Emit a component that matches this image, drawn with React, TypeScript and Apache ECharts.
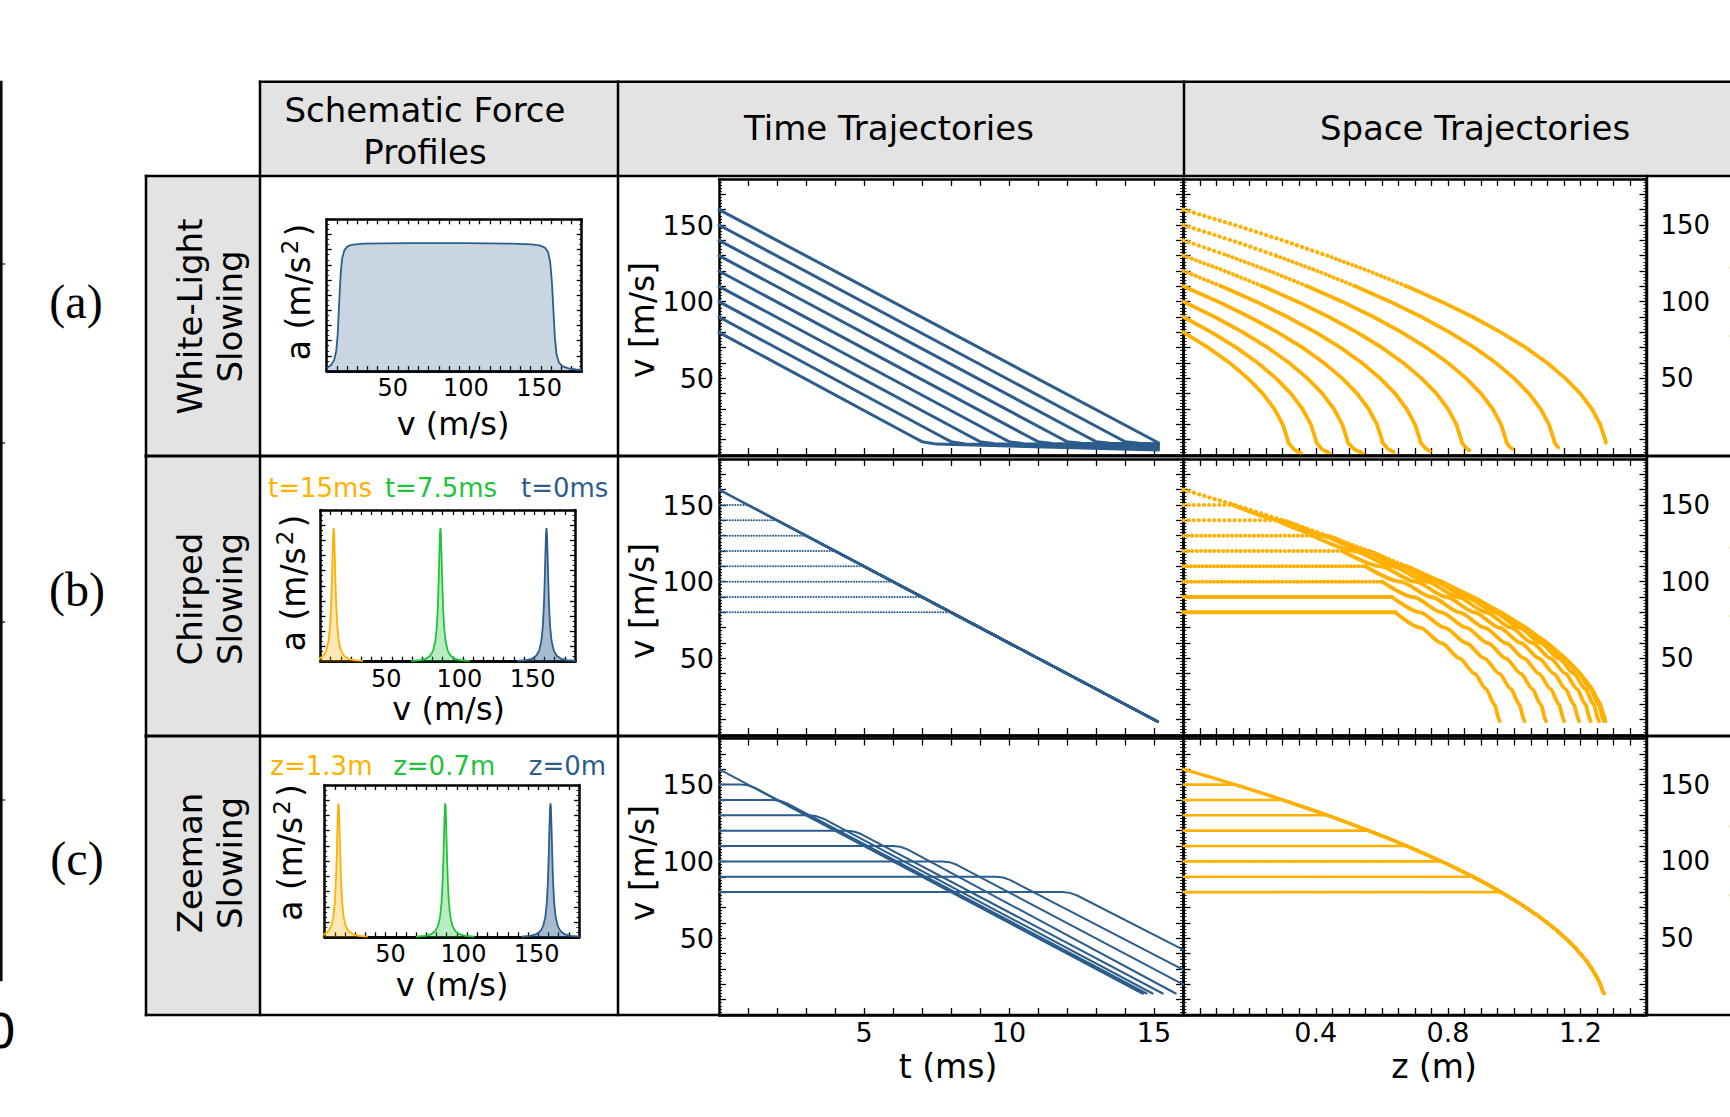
import React, { useEffect, useRef } from "react";
import * as echarts from "echarts";

// ---------------- data ----------------
const V0 = [160, 150, 140, 130, 120, 110, 100, 90, 80];
const V_LEVELS = [160, 150, 140, 130, 120, 110, 100, 90, 80, 70, 60, 50, 40, 30, 20, 10];

// (a) White-light slowing, time trajectories [t (ms), v (m/s)]
const WL_TIME = [
  [[0, 160], [15.15, 8]],
  [[0, 150], [13.6, 12.7], [14.0, 8.7], [14.5, 7.7], [15.15, 7.3]],
  [[0, 140], [12.6, 12.7], [13.0, 8.7], [13.5, 7.6], [15.15, 6.8]],
  [[0, 130], [11.6, 12.7], [12.0, 8.7], [12.5, 7.6], [15.15, 6.2]],
  [[0, 120], [10.6, 12.7], [11.0, 8.7], [11.5, 7.5], [15.15, 5.6]],
  [[0, 110], [9.6, 12.7], [10.0, 8.7], [10.5, 7.4], [15.15, 5.0]],
  [[0, 100], [8.6, 12.7], [9.0, 8.7], [9.5, 7.3], [15.15, 4.4]],
  [[0, 90], [7.6, 12.7], [8.0, 8.7], [8.5, 7.2], [15.15, 3.8]],
  [[0, 80], [6.6, 12.7], [7.0, 8.7], [7.5, 7.1], [15.15, 3.2]],
];
// (a) space trajectories: z (m) at V_LEVELS from v0 down to 10 m/s, then the stopping tail
const WL_SPACE_Z = [
  [0, 0.155, 0.3, 0.435, 0.56, 0.675, 0.78, 0.875, 0.96, 1.035, 1.1, 1.155, 1.2, 1.235, 1.26, 1.275],
  [0, 0.145, 0.28, 0.405, 0.52, 0.625, 0.72, 0.805, 0.88, 0.945, 1.0, 1.045, 1.08, 1.105, 1.12],
  [0, 0.135, 0.26, 0.375, 0.48, 0.575, 0.66, 0.735, 0.8, 0.855, 0.9, 0.935, 0.96, 0.975],
  [0, 0.125, 0.24, 0.345, 0.44, 0.525, 0.6, 0.665, 0.72, 0.765, 0.8, 0.825, 0.84],
  [0, 0.115, 0.22, 0.315, 0.4, 0.475, 0.54, 0.595, 0.64, 0.675, 0.7, 0.715],
  [0, 0.105, 0.2, 0.285, 0.36, 0.425, 0.48, 0.525, 0.56, 0.585, 0.6],
  [0, 0.095, 0.18, 0.255, 0.32, 0.375, 0.42, 0.455, 0.48, 0.495],
  [0, 0.085, 0.16, 0.225, 0.28, 0.325, 0.36, 0.385, 0.4],
  [0, 0.075, 0.14, 0.195, 0.24, 0.275, 0.3, 0.315],
];
const WL_SPACE_TAIL = [
  [[1.277, 8]],
  [[1.122, 8], [1.128, 6.2], [1.133, 5]],
  [[0.977, 8], [0.986, 5.5], [0.994, 4]],
  [[0.842, 8], [0.853, 5], [0.864, 3]],
  [[0.717, 8], [0.731, 4.5], [0.745, 2.5]],
  [[0.602, 8], [0.618, 4], [0.635, 2]],
  [[0.497, 8], [0.518, 3.5], [0.54, 1.5]],
  [[0.402, 8], [0.42, 3.5], [0.44, 1.5]],
  [[0.317, 8], [0.335, 3.5], [0.356, 1]],
];

// (b) Chirped slowing
const CH_MEET_T = [0, 1, 2, 3, 4, 5, 6, 7, 8];
const CH_TIME_END = [15.13, 8.7];
const CH_MEET_Z = [0, 0.15, 0.28, 0.39, 0.48, 0.55, 0.6, 0.63, 0.64];
const CH_SPACE_Z = [
  [0, 0.155, 0.3, 0.435, 0.56, 0.675, 0.78, 0.875, 0.96, 1.035, 1.1, 1.155, 1.2, 1.235, 1.26, 1.275],
  [0.15, 0.295, 0.43, 0.555, 0.67, 0.775, 0.87, 0.955, 1.03, 1.095, 1.15, 1.195, 1.23, 1.255, 1.27],
  [0.28, 0.415, 0.54, 0.655, 0.76, 0.855, 0.94, 1.015, 1.08, 1.135, 1.18, 1.215, 1.24, 1.255],
  [0.39, 0.515, 0.63, 0.735, 0.83, 0.915, 0.99, 1.055, 1.11, 1.155, 1.19, 1.215, 1.23],
  [0.48, 0.595, 0.7, 0.795, 0.88, 0.955, 1.02, 1.075, 1.12, 1.155, 1.18, 1.195],
  [0.55, 0.655, 0.75, 0.835, 0.91, 0.975, 1.03, 1.075, 1.11, 1.135, 1.15],
  [0.6, 0.695, 0.78, 0.855, 0.92, 0.975, 1.02, 1.055, 1.08, 1.095],
  [0.63, 0.715, 0.79, 0.855, 0.91, 0.955, 0.99, 1.015, 1.03],
  [0.64, 0.715, 0.78, 0.835, 0.88, 0.915, 0.94, 0.955],
];
const CH_SPACE_END_Z = [1.276, 1.271, 1.256, 1.231, 1.196, 1.151, 1.096, 1.031, 0.956];
const CH_END_V = 9;

// (c) Zeeman slowing: time trajectories with rounded capture knee
const ZM_TIME = [
  [[0, 160], [14.6, 14]],
  [[0, 150], [0.75, 150], [1.0, 149.5], [1.25, 147.8], [14.63, 14]],
  [[0, 140], [1.85, 140], [2.1, 139.5], [2.35, 137.8], [14.74, 14]],
  [[0, 130], [3.1, 130], [3.35, 129.5], [3.6, 127.8], [14.95, 14]],
  [[0, 120], [4.4, 120], [4.65, 119.5], [4.9, 117.8], [15.3, 14]],
  [[0, 110], [6.0, 110], [6.25, 109.5], [6.5, 107.8], [15.75, 14]],
  [[0, 100], [7.7, 100], [7.95, 99.5], [8.2, 97.8], [16, 20]],
  [[0, 90], [9.55, 90], [9.8, 89.5], [10.05, 87.8], [16, 29.5]],
  [[0, 80], [11.85, 80], [12.1, 79.5], [12.35, 77.8], [16, 42.5]],
];
const ZM_CAPTURE_Z = [0, 0.155, 0.3, 0.435, 0.56, 0.675, 0.78, 0.875, 0.96];
// resonance curve in space (the path every captured atom follows)
const ZM_RES_V = [160, 155, 150, 145, 140, 135, 130, 125, 120, 115, 110, 105, 100, 95, 90, 85, 80, 75, 70, 65, 60, 55, 50, 45, 40, 35, 30, 25, 20, 15, 14];
const ZM_RES_Z = [0, 0.079, 0.155, 0.229, 0.3, 0.369, 0.435, 0.499, 0.56, 0.619, 0.675, 0.729, 0.78, 0.829, 0.875, 0.919, 0.96, 0.999, 1.035, 1.069, 1.1, 1.129, 1.155, 1.179, 1.2, 1.219, 1.235, 1.249, 1.26, 1.269, 1.272];

// schematic force profiles
const WL_PROFILE_V = [5, 8, 10, 11.5, 12.5, 13.5, 14.5, 15.5, 17, 19, 22, 30, 60, 100, 130, 145, 151, 154, 156, 157.5, 158.7, 159.7, 160.7, 161.8, 163.5, 166, 170, 175, 179];
const WL_PROFILE_A = [0.02, 0.04, 0.07, 0.13, 0.24, 0.45, 0.64, 0.74, 0.795, 0.82, 0.832, 0.84, 0.843, 0.843, 0.84, 0.835, 0.826, 0.812, 0.785, 0.72, 0.58, 0.4, 0.22, 0.11, 0.055, 0.03, 0.017, 0.01, 0.007];
const PEAK_OFFSETS = [-20, -14, -10, -7, -5, -3.5, -2.5, -1.8, -1.2, -0.7, -0.3, 0, 0.3, 0.7, 1.2, 1.8, 2.5, 3.5, 5, 7, 10, 14, 20];
const PEAK_SHAPE = [0.005, 0.01, 0.019, 0.039, 0.073, 0.136, 0.23, 0.36, 0.54, 0.72, 0.85, 0.88, 0.85, 0.72, 0.54, 0.36, 0.23, 0.136, 0.073, 0.039, 0.019, 0.01, 0.005];
const CH_PEAK_CENTERS = [14, 87, 159.5];
const ZM_PEAK_CENTERS = [14.5, 87.5, 159.5];
const CH_LEGEND = ["t=15ms", "t=7.5ms", "t=0ms"];
const ZM_LEGEND = ["z=1.3m", "z=0.7m", "z=0m"];

const TIME_TICK_LABELS = [5, 10, 15];
const SPACE_TICK_LABELS = [0.4, 0.8, 1.2];
const V_TICK_LABELS = [50, 100, 150];
const INSET_TICK_LABELS = [50, 100, 150];

// ---------------- style / layout ----------------
const BLUE = "#2D5D8C";
const ORANGE = "#FFB000";
const GREEN = "#22C33C";
const GRAY = "#E3E3E3";
const AXC = "#000";
const FONT = "DejaVu Sans";

const TIME_LEFT = 719;
const TIME_W = 464;
const SPACE_LEFT = 1183.5;
const SPACE_W = 463;
const ROWS = [
  { top: 179, height: 276 },
  { top: 459, height: 276 },
  { top: 738.5, height: 276.5 },
];
const INSETS = [
  { left: 326.7, top: 219.3, width: 255, height: 151.7 },
  { left: 320.5, top: 510, width: 254.5, height: 151.7 },
  { left: 324.6, top: 785, width: 254.4, height: 152.3 },
];

function buildOption() {
  const grid: any[] = [];
  const xAxis: any[] = [];
  const yAxis: any[] = [];
  const series: any[] = [];

  const axLine = { show: true, onZero: false, lineStyle: { color: AXC, width: 2.5 } };
  const tick = (len: number) => ({ show: true, inside: true, length: len, lineStyle: { color: AXC, width: 1.3 } });
  const pick = (list: number[]) => (v: number) => {
    const f = list.find((t) => Math.abs(t - v) < 1e-6);
    return f === undefined ? "" : String(f);
  };
  const lab = (show: boolean, list: number[], margin: number, size: number) => ({
    show,
    formatter: pick(list),
    margin,
    fontSize: size,
    color: AXC,
    fontFamily: FONT,
  });

  function addMain(left: number, width: number, row: any, kind: string, showX: boolean, leftLab: boolean, rightLab: boolean) {
    const gi = grid.length;
    grid.push({ left, top: row.top, width, height: row.height, show: false });
    const isT = kind === "time";
    const xr = isT ? { min: 0, max: 16, interval: 1 } : { min: 0, max: 1.4, interval: 0.05 };
    const xl = isT ? TIME_TICK_LABELS : SPACE_TICK_LABELS;
    const xi = xAxis.length;
    xAxis.push({ gridIndex: gi, type: "value", position: "bottom", ...xr, axisLine: axLine, axisTick: tick(7), axisLabel: lab(showX, xl, 4, 27), splitLine: { show: false } });
    xAxis.push({ gridIndex: gi, type: "value", position: "top", ...xr, axisLine: axLine, axisTick: tick(7), axisLabel: { show: false }, splitLine: { show: false } });
    const yi = yAxis.length;
    const yr = { min: 0, max: 180, interval: 10 };
    const minor = { show: true, splitNumber: 5, length: 3, lineStyle: { color: AXC, width: 0.9 } };
    yAxis.push({ gridIndex: gi, type: "value", position: "left", ...yr, axisLine: axLine, axisTick: tick(7), minorTick: minor, axisLabel: lab(leftLab, V_TICK_LABELS, 5, 27), splitLine: { show: false }, minorSplitLine: { show: false } });
    yAxis.push({ gridIndex: gi, type: "value", position: "right", ...yr, axisLine: axLine, axisTick: tick(7), minorTick: minor, axisLabel: lab(rightLab, V_TICK_LABELS, 14, 26), splitLine: { show: false }, minorSplitLine: { show: false } });
    return [xi, yi];
  }

  function addInset(b: any) {
    const gi = grid.length;
    grid.push({ left: b.left, top: b.top, width: b.width, height: b.height, show: false });
    const xi = xAxis.length;
    xAxis.push({
      gridIndex: gi, type: "value", position: "bottom", min: 5, max: 179,
      axisLine: axLine, axisTick: { show: false }, splitLine: { show: false },
      axisLabel: { show: true, customValues: INSET_TICK_LABELS, fontSize: 24, lineHeight: 24, color: AXC, fontFamily: FONT, margin: 5 },
    });
    ["bottom", "top"].forEach((pos) =>
      xAxis.push({ gridIndex: gi, type: "value", position: pos, min: 0, max: 25, interval: 1, axisLine: axLine, axisTick: tick(5), axisLabel: { show: false }, splitLine: { show: false } })
    );
    const yi = yAxis.length;
    ["left", "right"].forEach((pos) =>
      yAxis.push({
        gridIndex: gi, type: "value", position: pos, min: 0, max: 1, interval: 0.1,
        axisLine: axLine, axisTick: tick(5),
        minorTick: { show: true, splitNumber: 3, length: 2.5, lineStyle: { color: AXC, width: 0.9 } },
        axisLabel: { show: false }, splitLine: { show: false }, minorSplitLine: { show: false },
      })
    );
    return [xi, yi];
  }

  function addLine(ax: number[], data: any[], color: string, width: number, dash: any = "solid", smooth: any = false) {
    series.push({
      type: "line", xAxisIndex: ax[0], yAxisIndex: ax[1], data,
      symbol: "none", showSymbol: false, silent: true, animation: false, clip: true,
      smooth, smoothMonotone: "x", z: 3,
      lineStyle: { color, width, type: dash, cap: "round", join: "round" },
    });
  }
  function addGraded(ax: number[], pts: any[], color: string, width: number) {
    const s1 = pts.filter((p) => p[1] >= 130);
    const s2 = pts.filter((p) => p[1] <= 130 && p[1] >= 110);
    const s3 = pts.filter((p) => p[1] <= 110);
    if (s1.length > 1) addLine(ax, s1, color, width + 0.4, [0.1, 5.3]);
    if (s2.length > 1) addLine(ax, s2, color, width + 0.2, [0.1, 4.3]);
    if (s3.length > 1) addLine(ax, s3, color, width);
  }
  function addArea(ax: number[], data: any[], color: string, fill: string) {
    series.push({
      type: "line", xAxisIndex: ax[0], yAxisIndex: ax[1], data,
      symbol: "none", showSymbol: false, silent: true, animation: false, clip: true, z: 3,
      lineStyle: { color, width: 1.8 }, areaStyle: { color: fill },
    });
  }
  const dashFor = (v0: number) => (v0 >= 140 ? [0.1, 5] : v0 >= 120 ? [0.1, 4.3] : v0 >= 100 ? [0.1, 3.7] : "solid");

  // grids
  const ia = addInset(INSETS[0]);
  const ib = addInset(INSETS[1]);
  const ic = addInset(INSETS[2]);
  const ta = addMain(TIME_LEFT, TIME_W, ROWS[0], "time", false, true, false);
  const sa = addMain(SPACE_LEFT, SPACE_W, ROWS[0], "space", false, false, true);
  const tb = addMain(TIME_LEFT, TIME_W, ROWS[1], "time", false, true, false);
  const sb = addMain(SPACE_LEFT, SPACE_W, ROWS[1], "space", false, false, true);
  const tc = addMain(TIME_LEFT, TIME_W, ROWS[2], "time", true, true, false);
  const sc = addMain(SPACE_LEFT, SPACE_W, ROWS[2], "space", true, false, true);

  // insets
  addArea(ia, WL_PROFILE_V.map((v, i) => [v, WL_PROFILE_A[i]]), BLUE, "rgba(45,93,140,0.37)");
  const peakCols = [ORANGE, GREEN, BLUE];
  const peakFills = ["rgba(255,176,0,0.42)", "rgba(34,195,60,0.45)", "rgba(45,93,140,0.6)"];
  CH_PEAK_CENTERS.forEach((c, k) => addArea(ib, PEAK_OFFSETS.map((o, i) => [c + o, PEAK_SHAPE[i]]), peakCols[k], peakFills[k]));
  ZM_PEAK_CENTERS.forEach((c, k) => addArea(ic, PEAK_OFFSETS.map((o, i) => [c + o, PEAK_SHAPE[i]]), peakCols[k], peakFills[k]));

  // (a)
  WL_TIME.forEach((tr) => addLine(ta, tr, BLUE, 3));
  WL_SPACE_Z.forEach((zs, k) => {
    const off = V_LEVELS.indexOf(V0[k]);
    const pts = zs.map((z, i) => [z, V_LEVELS[off + i]]).concat(WL_SPACE_TAIL[k]);
    addGraded(sa, pts, ORANGE, 3.8);
  });

  // (b)
  V0.forEach((v0, k) => {
    const tm = CH_MEET_T[k];
    if (tm > 0) addLine(tb, [[0, v0], [tm, v0]], BLUE, 2, [0.1, 2.6]);
    addLine(tb, [[tm, v0], CH_TIME_END], BLUE, 2.5);
    const zm = CH_MEET_Z[k];
    if (zm > 0) addLine(sb, [[0, v0], [zm, v0]], ORANGE, 4, dashFor(v0));
    const off = V_LEVELS.indexOf(v0);
    const pts = CH_SPACE_Z[k].map((z, i) => [z, V_LEVELS[off + i]]).concat([[CH_SPACE_END_Z[k], CH_END_V]]);
    if (k === 0) addGraded(sb, pts, ORANGE, 3.8);
    else addLine(sb, pts, ORANGE, 3.8, "solid", 0.25);
  });

  // (c)
  ZM_TIME.forEach((tr) => addLine(tc, tr, BLUE, 2));
  V0.forEach((v0, k) => {
    const zc = ZM_CAPTURE_Z[k];
    if (zc > 0) addLine(sc, [[0, v0], [zc, v0]], ORANGE, 2.6, [1.6, 1.2]);
    const res = ZM_RES_Z.map((z, i) => [z, ZM_RES_V[i]]).filter((p) => p[1] < v0);
    addLine(sc, [[zc, v0]].concat(res), ORANGE, 3.2);
  });

  // ---------------- table & texts ----------------
  const G: any[] = [];
  const rect = (x: number, y: number, w: number, h: number, fill: string) =>
    G.push({ type: "rect", shape: { x, y, width: w, height: h }, style: { fill }, z: -5, silent: true });
  const seg = (x1: number, y1: number, x2: number, y2: number, w = 2.5) =>
    G.push({ type: "line", shape: { x1, y1, x2, y2 }, style: { stroke: "#000", lineWidth: w, lineCap: "square" }, z: 50, silent: true });
  const txt = (text: string, x: number, y: number, size: number, o: any = {}) =>
    G.push({
      type: "text", x, y, rotation: o.rot || 0, z: 60, silent: true,
      style: {
        text, fontSize: size, fontFamily: o.font || FONT, fill: o.color || "#000",
        align: "center", verticalAlign: "middle", lineHeight: o.lh || size * 1.2, rich: o.rich,
      },
    });

  rect(260, 81.7, 1480, 94.3, GRAY);
  rect(146, 176, 114, 839, GRAY);
  seg(260, 81.7, 1730, 81.7);
  seg(146, 176, 1730, 176);
  seg(146, 456, 1730, 456, 3);
  seg(146, 736, 1730, 736, 3);
  seg(146, 1015, 1730, 1015);
  seg(146, 176, 146, 1015);
  seg(260, 81.7, 260, 1015);
  seg(618, 81.7, 618, 1015);
  seg(1184, 81.7, 1184, 176);
  seg(1647, 176, 1647, 1015);
  // cropped neighbour panel on the far left
  seg(1.3, 82, 1.3, 980);
  [264, 443, 622, 800].forEach((y) => seg(1.3, y, 4.5, y, 1.2));
  txt("0", 1, 1031, 48);

  const R = Math.PI / 2;
  txt("Schematic Force\nProfiles", 425, 131, 34, { lh: 42 });
  txt("Time Trajectories", 889, 128, 34);
  txt("Space Trajectories", 1475, 128, 34);

  txt("White-Light\nSlowing", 210, 316.5, 34, { rot: R, lh: 40 });
  txt("Chirped\nSlowing", 210, 599, 34, { rot: R, lh: 40 });
  txt("Zeeman\nSlowing", 210, 863, 34, { rot: R, lh: 40 });

  txt("(a)", 76, 301, 48, { font: "Liberation Serif" });
  txt("(b)", 77, 589, 48, { font: "Liberation Serif" });
  txt("(c)", 77, 858, 48, { font: "Liberation Serif" });

  [320, 601, 863].forEach((y) => txt("v [m/s]", 642, y, 33, { rot: R }));
  [317, 597, 876].forEach((y) => txt("v (m/s)", 1744, y, 33, { rot: R }));
  txt("t (ms)", 948, 1066, 33);
  txt("z (m)", 1434, 1066, 33);

  const supRich = { s: { fontSize: 23, fontFamily: FONT, fill: "#000", verticalAlign: "top", lineHeight: 23, padding: [0, 3, 0, 2] } };
  txt("a (m/s{s|2})", 298, 292, 33, { rot: R, rich: supRich });
  txt("a (m/s{s|2})", 293.5, 583, 33, { rot: R, rich: supRich });
  txt("a (m/s{s|2})", 290, 852.5, 33, { rot: R, rich: supRich });
  txt("v (m/s)", 453, 423.5, 32, { lh: 28 });
  txt("v (m/s)", 448.7, 709, 32, { lh: 28 });
  txt("v (m/s)", 452, 985, 32, { lh: 28 });

  const chX = [320, 441, 564.7];
  const zmX = [321.4, 444.2, 567.5];
  CH_LEGEND.forEach((s, k) => txt(s, chX[k], 488, 26, { color: peakCols[k] }));
  ZM_LEGEND.forEach((s, k) => txt(s, zmX[k], 766, 26, { color: peakCols[k] }));

  return {
    animation: false,
    backgroundColor: "#fff",
    grid,
    xAxis,
    yAxis,
    series,
    graphic: { elements: G },
  };
}

export default function App() {
  const ref = useRef<HTMLDivElement>(null);
  useEffect(() => {
    if (!ref.current) return;
    const chart = echarts.init(ref.current, null, { renderer: "svg" });
    chart.setOption(buildOption() as any);
    return () => chart.dispose();
  }, []);
  return (
    <div
      ref={ref}
      style={{ position: "absolute", left: 0, top: 0, width: 1730, height: 1117, background: "#fff" }}
    />
  );
}
